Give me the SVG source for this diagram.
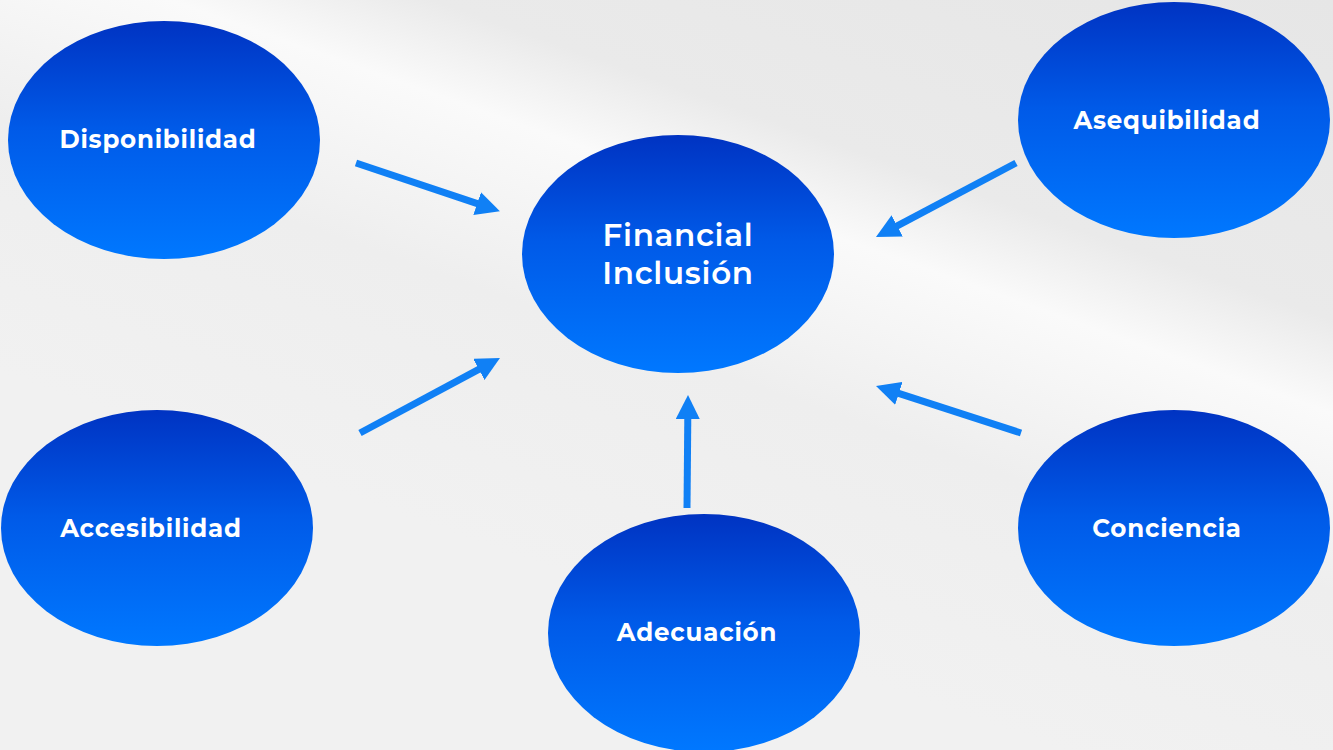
<svg xmlns="http://www.w3.org/2000/svg" width="1333" height="750" viewBox="0 0 1333 750">
<defs>
<linearGradient id="bg" gradientUnits="userSpaceOnUse" x1="834" y1="-180" x2="566" y2="574">
<stop offset="0" stop-color="#e6e6e6"/>
<stop offset="0.38" stop-color="#eaeaea"/>
<stop offset="0.49" stop-color="#fafafa"/>
<stop offset="0.56" stop-color="#f6f6f6"/>
<stop offset="0.7" stop-color="#eeeeee"/>
<stop offset="1" stop-color="#f1f1f1"/>
</linearGradient>
<linearGradient id="node" x1="0" y1="0" x2="0" y2="1">
<stop offset="0" stop-color="#0033c2"/>
<stop offset="0.45" stop-color="#005ae8"/>
<stop offset="1" stop-color="#0078ff"/>
</linearGradient>
<marker id="ah" markerUnits="userSpaceOnUse" markerWidth="26" markerHeight="24" refX="1" refY="12" orient="auto">
<path d="M0,0 L24,12 L0,24 Z" fill="#1080f5"/>
</marker>
<style>
.n{fill:url(#node)}
.t{fill:#ffffff;font-family:Montserrat,"Open Sans","Liberation Sans",sans-serif;font-weight:700;text-anchor:middle;letter-spacing:0.8px;font-size:24.5px}
.h{font-weight:600;font-size:31px;letter-spacing:0.7px}
.c{stroke:#1080f5;stroke-width:7;fill:none;marker-end:url(#ah)}
</style>
</defs>
<rect width="1333" height="750" fill="url(#bg)"/>
<g id="connectors">
<line class="c" x1="356" y1="163" x2="478.1" y2="203.9"/>
<line class="c" x1="360" y1="433" x2="479.7" y2="368.9"/>
<line class="c" x1="687" y1="508" x2="687.8" y2="418"/>
<line class="c" x1="1016" y1="163" x2="896.3" y2="226.3"/>
<line class="c" x1="1021" y1="433" x2="897.9" y2="393.1"/>
</g>
<g id="disponibilidad"><ellipse class="n" cx="164" cy="140" rx="156" ry="119"/><text class="t" x="158" y="148">Disponibilidad</text></g>
<g id="financial"><ellipse class="n" cx="678" cy="254" rx="156" ry="119"/><text class="t h" x="678" y="246">Financial</text><text class="t h" x="678" y="284">Inclusión</text></g>
<g id="asequibilidad"><ellipse class="n" cx="1174" cy="120" rx="156" ry="118"/><text class="t" x="1167" y="129">Asequibilidad</text></g>
<g id="accesibilidad"><ellipse class="n" cx="157" cy="528" rx="156" ry="118"/><text class="t" x="151" y="537">Accesibilidad</text></g>
<g id="adecuacion"><ellipse class="n" cx="704" cy="633" rx="156" ry="119"/><text class="t" x="697" y="641">Adecuación</text></g>
<g id="conciencia"><ellipse class="n" cx="1174" cy="528" rx="156" ry="118"/><text class="t" x="1167" y="537">Conciencia</text></g>
</svg>
